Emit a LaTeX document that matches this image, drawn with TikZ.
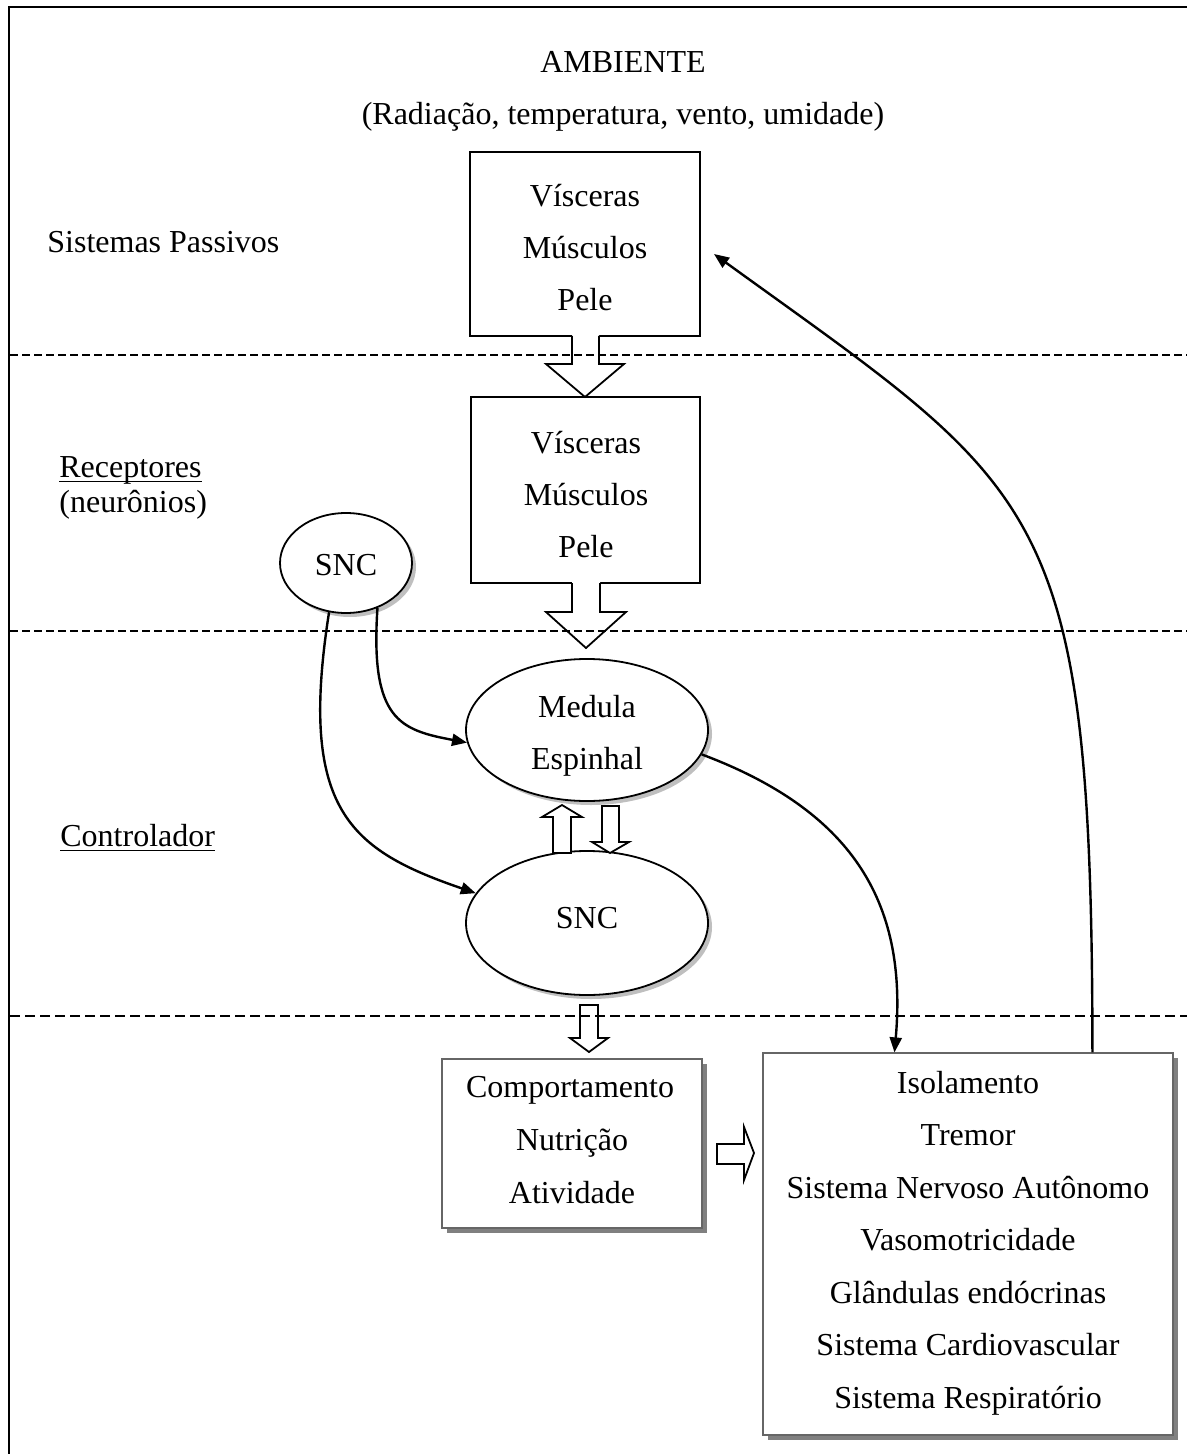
\documentclass[tikz,border=0pt]{standalone}
\usepackage{fontspec}
\setmainfont{Liberation Serif}
\usetikzlibrary{arrows.meta,shapes.geometric,shadows}
\newcommand\myul[1]{\leavevmode\setbox0\hbox{#1}\rlap{\rule[-2.6pt]{\wd0}{0.7pt}}\box0}
\begin{document}
\begin{tikzpicture}[x=0.5pt,y=-0.5pt,
  txt/.style={inner sep=0pt, anchor=base, font=\fontsize{16}{26}\selectfont},
  lbl/.style={txt, anchor=base west},
  sysbox/.style={draw=black, line width=1pt, fill=white, inner sep=0pt},
  shbox/.style={draw=black!60, line width=0.6pt, fill=white, inner sep=0pt,
    drop shadow={shadow xshift=2.5pt, shadow yshift=-2.5pt, fill=black!50, opacity=1}},
  ell/.style={ellipse, draw=black, line width=0.9pt, fill=white, inner sep=0pt,
    drop shadow={shadow xshift=2pt, shadow yshift=-2pt, fill=black!25, opacity=1}},
  blk/.style={draw=black, line width=0.9pt, line join=miter},
  conn/.style={line width=1.2pt, -{Triangle[length=7.5pt,width=6pt]}},
  sep/.style={dash pattern=on 4pt off 2pt, line width=0.75pt},
]
\useasboundingbox (0,0) rectangle (1187,1454);

% frame
\draw[line width=1pt] (9,1454) -- (9,7) -- (1187,7);

% title
\node[txt] (amb) at (623,73) {AMBIENTE};
\node[txt] (ambsub) at (623,125) {(Radiação, temperatura, vento, umidade)};

% left labels
\node[lbl] (lpas) at (47,253) {Sistemas Passivos};
\node[lbl] (lrec) at (59,477) {\myul{Receptores}};
\node[lbl] (lneu) at (59,512) {(neurônios)};
\node[lbl] (lcon) at (60,846) {\myul{Controlador}};

% boxes
\node[sysbox, minimum width=115pt, minimum height=92pt] (pas) at (585,244) {};
\node[sysbox, minimum width=114.5pt, minimum height=93pt] (rec) at (585.5,490) {};
\node[txt] (pas1) at (585,207) {Vísceras};
\node[txt] (pas2) at (585,259) {Músculos};
\node[txt] (pas3) at (585,311) {Pele};
\node[txt] (rec1) at (586,453) {Vísceras};
\node[txt] (rec2) at (586,505) {Músculos};
\node[txt] (rec3) at (586,557) {Pele};

% block arrows pas -> rec, rec -> med
\fill[white] (572,334) -- (572,364) -- (546,364) -- (585,397) -- (624,364) -- (599,364) -- (599,334) -- cycle;
\draw[blk] (572,336) -- (572,364) -- (546,364) -- (585,397) -- (624,364) -- (599,364) -- (599,336);
\fill[white] (572,581) -- (572,612) -- (546,612) -- (586,648) -- (626,612) -- (600,612) -- (600,581) -- cycle;
\draw[blk] (572,583) -- (572,612) -- (546,612) -- (586,648) -- (626,612) -- (600,612) -- (600,583);

% ellipses
\node[ell, minimum width=66pt, minimum height=50pt] (snca) at (346,563) {};
\node[txt] (sncat) at (346,575) {SNC};
\node[ell, minimum width=121pt, minimum height=71pt] (med) at (587,730) {};
\node[txt] (med1) at (587,717) {Medula};
\node[txt] (med2) at (587,769) {Espinhal};
\node[ell, minimum width=121pt, minimum height=72pt] (sncb) at (587,923) {};
\node[txt] (sncbt) at (587,928) {SNC};

% small block arrows between ellipses
\draw[blk, fill=white] (553,853) -- (553,817) -- (542,817) -- (562,805) -- (582,817) -- (571,817) -- (571,853) -- cycle;
\draw[blk, fill=white] (602,806) -- (602,842) -- (592,842) -- (610,853) -- (629,842) -- (619,842) -- (619,806) -- cycle;

% effector boxes
\node[shbox, minimum width=130pt, minimum height=84.5pt] (comp) at (572,1143.5) {};
\node[txt] (comp1) at (570,1097) {Comportamento};
\node[txt] (comp2) at (572,1150) {Nutrição};
\node[txt] (comp3) at (572,1203) {Atividade};
\node[shbox, minimum width=205pt, minimum height=191pt] (efe) at (968,1244) {};
\node[txt] (efe1) at (968,1093) {Isolamento};
\node[txt] (efe2) at (968,1145.5) {Tremor};
\node[txt] (efe3) at (968,1198) {Sistema Nervoso Autônomo};
\node[txt] (efe4) at (968,1250.5) {Vasomotricidade};
\node[txt] (efe5) at (968,1303) {Glândulas endócrinas};
\node[txt] (efe6) at (968,1355.5) {Sistema Cardiovascular};
\node[txt] (efe7) at (968,1408) {Sistema Respiratório};

% block arrows sncb -> comp, comp -> efe
\draw[blk, fill=white] (580,1005) -- (580,1038) -- (570,1038) -- (589,1052) -- (608,1038) -- (598,1038) -- (598,1005) -- cycle;
\draw[blk, fill=white] (717,1144) -- (744,1144) -- (744,1127) -- (754,1153) -- (744,1180) -- (744,1164) -- (717,1164) -- cycle;

% dashed separators
\draw[sep] (10,355) -- (1187,355);
\draw[sep] (10,631) -- (1187,631);
\draw[dash pattern=on 5pt off 2.5pt, line width=1.3pt] (10,1016) -- (1187,1016);

% connectors
\draw[conn] (snca.-55) .. controls (370,720) and (400,730) .. (med.186);
\draw[conn] (snca.-109) .. controls (298,810) and (350,850) .. (sncb.165);
\draw[conn] (med.-12) .. controls (850,810) and (908,900) .. (efe.111.2);
\draw[conn] (efe.57.6) .. controls (1092,500) and (1043,492) .. ([shift={(6.5pt,-5pt)}]pas.east);
\end{tikzpicture}
\end{document}
